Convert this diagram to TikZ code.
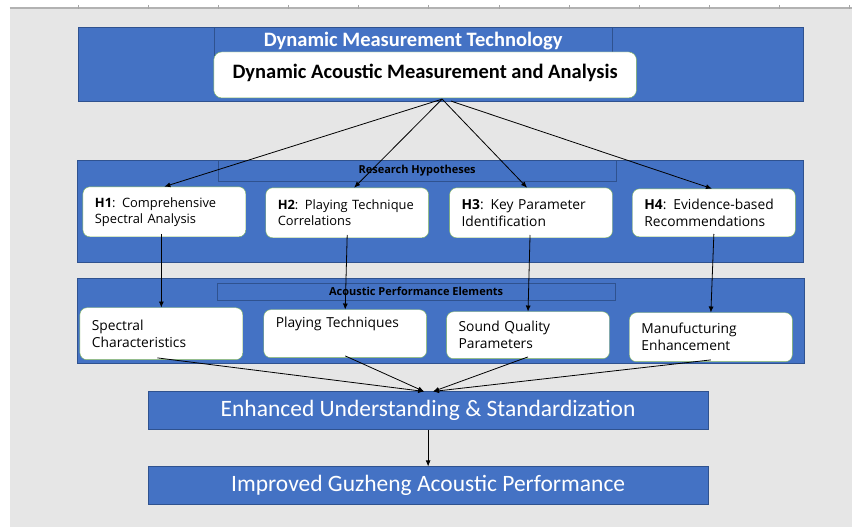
\documentclass[tikz,border=0pt]{standalone}
\usepackage{fontspec}
\setmainfont{Carlito}
\newfontfamily\boxfont{Open Sans}
\usepackage{tikz}
\usetikzlibrary{arrows.meta, positioning, calc}

\definecolor{bandblue}{HTML}{4472C4}
\definecolor{banddark}{HTML}{2F528F}
\definecolor{boxgreen}{HTML}{7FB55C}
\definecolor{pagegray}{HTML}{E6E6E6}

\begin{document}
\begin{tikzpicture}[
    x=1pt, y=-1pt,
    band/.style={draw=banddark, fill=bandblue, rectangle, inner sep=0pt},
    tag/.style={draw=banddark, fill=bandblue, rectangle, inner sep=0pt,
                font=\boxfont\bfseries\fontsize{11}{12}\selectfont},
    hypbox/.style={draw=boxgreen, fill=white, rectangle, rounded corners=7pt,
                   inner xsep=12pt, inner ysep=0pt, text width=139pt,
                   align=left, font=\boxfont\fontsize{12.9}{16}\selectfont},
    elembox/.style={hypbox, font=\boxfont\fontsize{13.8}{17}\selectfont},
    result/.style={draw=banddark, fill=bandblue, rectangle, inner sep=0pt,
                   minimum width=561pt, minimum height=38pt, text=white,
                   font=\fontsize{23.5}{26}\selectfont},
    line/.style={draw, -{Latex[length=6pt, width=5pt]}, line width=0.8pt}
]

    % page and ruler
    \fill[white] (0,0) rectangle (853,527);
    \fill[pagegray] (10,9) rectangle (853,527);
    \draw[gray!60, line width=1.5pt] (10,8) -- (853,8);
    \foreach \t in {0,...,11}
        \draw[gray!70] (78+70.2*\t,5) -- (78+70.2*\t,9);

    % measurement layer
    \node[band, minimum width=726pt, minimum height=74pt] (top) at (441,64) {};
    \node[band, minimum width=399pt, minimum height=28pt, text=white,
          font=\bfseries\fontsize{20.5}{22}\selectfont] (toptag) at (413.5,41)
          {Dynamic Measurement Technology};
    \node[draw=boxgreen, fill=white, rounded corners=8pt, minimum width=423pt,
          minimum height=46pt, text depth=8pt,
          font=\bfseries\fontsize{20.5}{22}\selectfont] (main) at (425.5,75)
          {Dynamic Acoustic Measurement and Analysis};

    % hypotheses layer
    \node[band, minimum width=727pt, minimum height=102pt] (hyp) at (440.5,211) {};
    \node[tag, minimum width=399pt, minimum height=21pt] (hyptag) at (417.5,170.5)
          {Research Hypotheses};
    \node[hypbox, minimum height=50pt] (h1) at (164.5,212)
          {\textbf{H1}: Comprehensive\\Spectral Analysis};
    \node[hypbox, minimum height=50pt] (h2) at (347.5,213)
          {\textbf{H2}: Playing Technique\\Correlations};
    \node[elembox, minimum height=50pt] (h3) at (531.5,213)
          {\textbf{H3}: Key Parameter\\Identification};
    \node[elembox, minimum height=48pt] (h4) at (714.5,213)
          {\textbf{H4}: Evidence-based\\Recommendations};

    % elements layer
    \node[band, minimum width=728pt, minimum height=86pt] (elem) at (441,321) {};
    \node[tag, minimum width=399pt, minimum height=17pt] (elemtag) at (416.5,291.5)
          {Acoustic Performance Elements};
    \node[elembox, minimum height=52pt] (s1) at (161.5,334)
          {Spectral\\Characteristics};
    \node[elembox, minimum height=48pt] (s2) at (345.5,334)
          {Playing Techniques\\\strut};
    \node[elembox, minimum height=47pt] (s3) at (528.5,335.5)
          {Sound Quality\\Parameters};
    \node[elembox, minimum height=49pt] (s4) at (711.5,337.5)
          {Manufucturing\\Enhancement};

    % outcomes
    \node[result] (enh) at (428.5,411) {Enhanced Understanding \& Standardization};
    \node[result] (imp) at (428.5,486) {Improved Guzheng Acoustic Performance};

    % fan out to hypotheses
    \coordinate (fan)  at ([xshift=17pt, yshift=-1pt]main.south);
    \coordinate (fan2) at ([xshift=26pt, yshift=-3pt]main.south);
    \draw[line] (fan)  -- (h1.north);
    \draw[line] (fan)  -- ([xshift=7pt]h2.north);
    \draw[line] (fan)  -- ([xshift=-4pt]h3.north);
    \draw[line] (fan2) -- ([xshift=-2pt]h4.north);

    % hypotheses to elements
    \draw[line] ([xshift=-3pt, yshift=3pt]h1.south) -- (s1.north);
    \draw[line] ([yshift=3pt]h2.south) -- (s2.north);
    \draw[line] ([xshift=-1pt, yshift=3pt]h3.south) -- (s3.north);
    \draw[line] ([yshift=3pt]h4.south) -- (s4.north);

    % elements to outcomes
    \draw[line] ([xshift=-4pt, yshift=2pt]s1.south) -- ([xshift=-4pt]enh.north);
    \draw[line] ([yshift=2pt]s2.south) -- ([xshift=-4pt]enh.north);
    \draw[line] ([yshift=2pt]s3.south) -- ([xshift=5pt]enh.north);
    \draw[line] ([yshift=2pt]s4.south) -- ([xshift=5pt]enh.north);
    \draw[line] (enh) -- (imp);

\end{tikzpicture}
\end{document}
